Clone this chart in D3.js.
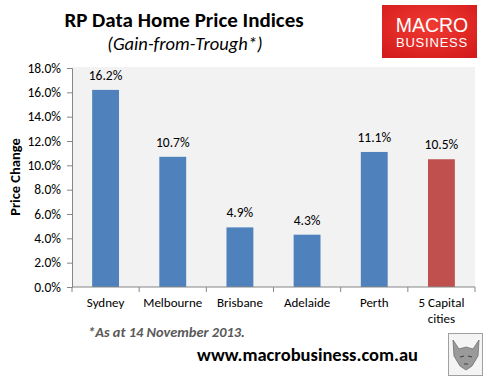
<!DOCTYPE html>
<html>
<head>
<meta charset="utf-8">
<script src="https://cdn.jsdelivr.net/npm/d3@7"></script>
<style>
  body { margin: 0; background: #fff; }
  svg { display: block; font-family: Calibri, Carlito, Lato, sans-serif; }
</style>
</head>
<body>
<svg id="chart" width="489" height="378"></svg>
<script>
const cities = ["Sydney", "Melbourne", "Brisbane", "Adelaide", "Perth", "5 Capital cities"];
const gains = [16.2, 10.7, 4.9, 4.3, 11.1, 10.5];
const barColors = ["#4F81BD", "#4F81BD", "#4F81BD", "#4F81BD", "#4F81BD", "#C0504D"];
const yTicks = [0, 2, 4, 6, 8, 10, 12, 14, 16, 18];

const svg = d3.select("#chart");
const plotL = 72, plotR = 475, plotT = 67, plotB = 287;
const axisTop = 68;

const x = d3.scaleBand().domain(cities).range([plotL, plotR]).paddingInner(0.6).paddingOuter(0.3);
const y = d3.scaleLinear().domain([0, 18]).range([plotB, axisTop]);

// plot area
svg.append("rect")
    .attr("x", plotL).attr("y", plotT)
    .attr("width", plotR - plotL).attr("height", plotB - plotT)
    .attr("fill", "#F2F2F2");

// bars
svg.selectAll(".bar")
    .data(cities)
    .join("rect")
    .attr("x", d => x(d))
    .attr("width", x.bandwidth())
    .attr("y", (d, i) => y(gains[i]))
    .attr("height", (d, i) => plotB - y(gains[i]))
    .attr("fill", (d, i) => barColors[i]);

svg.selectAll(".lbl")
    .data(cities)
    .join("text")
    .attr("x", d => x(d) + x.bandwidth() / 2)
    .attr("y", (d, i) => y(gains[i]) - 10)
    .attr("text-anchor", "middle")
    .attr("font-size", 13.5)
    .attr("fill", "#000")
    .text((d, i) => gains[i].toFixed(1) + "%");

// y axis
const yAxis = d3.axisLeft(y).tickValues(yTicks).tickSize(5).tickFormat(d => d.toFixed(1) + "%");
const gy = svg.append("g").attr("transform", `translate(${plotL},0)`).call(yAxis);
gy.select(".domain").attr("stroke", "#868686");
gy.selectAll(".tick line").attr("stroke", "#868686");
gy.selectAll(".tick text").attr("font-size", 13.5).attr("fill", "#000")
    .attr("font-family", "Calibri, Carlito, Lato, sans-serif").attr("x", -11);

// x axis
const edges = d3.range(cities.length + 1).map(i => plotL + i * (plotR - plotL) / cities.length);
svg.append("line").attr("x1", plotL).attr("x2", plotR).attr("y1", plotB).attr("y2", plotB).attr("stroke", "#868686");
svg.selectAll(".xt").data(edges).join("line")
    .attr("x1", d => d).attr("x2", d => d).attr("y1", plotB).attr("y2", plotB + 5)
    .attr("stroke", "#868686");

svg.selectAll(".xl")
    .data(cities)
    .join("text")
    .attr("x", d => x(d) + x.bandwidth() / 2)
    .attr("y", 307)
    .attr("text-anchor", "middle")
    .attr("font-size", 13)
    .each(function(d) {
        const t = d3.select(this);
        const parts = d === "5 Capital cities" ? ["5 Capital", "cities"] : [d];
        parts.forEach((p, k) => t.append("tspan").attr("x", x(d) + x.bandwidth() / 2).attr("dy", k ? 16 : 0).text(p));
    });

// y title
svg.append("text")
    .attr("transform", "translate(20,177) rotate(-90)")
    .attr("text-anchor", "middle")
    .attr("font-size", 14.5).attr("font-weight", "bold")
    .text("Price Change");

// titles
svg.append("text").attr("x", 184).attr("y", 27).attr("text-anchor", "middle")
    .attr("font-size", 21).attr("font-weight", "bold").text("RP Data Home Price Indices");
svg.append("text").attr("x", 185).attr("y", 50).attr("text-anchor", "middle")
    .attr("font-size", 18.5).attr("font-style", "italic").text("(Gain-from-Trough*)");

// logo
const grad = svg.append("defs").append("radialGradient").attr("id", "lg").attr("cx", "50%").attr("cy", "40%").attr("r", "70%");
grad.append("stop").attr("offset", "0%").attr("stop-color", "#F23A33");
grad.append("stop").attr("offset", "100%").attr("stop-color", "#D41C1C");
svg.append("rect").attr("x", 382).attr("y", 5).attr("width", 95).attr("height", 53).attr("fill", "url(#lg)");
svg.append("text").attr("x", 432).attr("y", 32).attr("text-anchor", "middle")
    .attr("font-family", "Arial, 'Liberation Sans', sans-serif").attr("font-size", 19.5).attr("fill", "#fff").text("MACRO");
svg.append("text").attr("x", 432).attr("y", 47).attr("text-anchor", "middle")
    .attr("font-family", "Arial, 'Liberation Sans', sans-serif").attr("font-size", 13).attr("letter-spacing", 0.8).attr("fill", "#fff").text("BUSINESS");

// footnote
svg.append("text").attr("x", 88).attr("y", 337)
    .attr("font-size", 14.4).attr("font-weight", "bold").attr("font-style", "italic").attr("fill", "#595959")
    .text("*As at 14 November 2013.");
svg.append("text").attr("x", 197).attr("y", 361)
    .attr("font-size", 18.5).attr("font-weight", "bold").attr("fill", "#000")
    .text("www.macrobusiness.com.au");

// wolf thumbnail
svg.append("rect").attr("x", 448.5).attr("y", 333.5).attr("width", 34).attr("height", 42)
    .attr("fill", "#F4F4F4").attr("stroke", "#A0A0A0");
svg.append("path")
    .attr("d", "M453,340 L459,349 L466,347 L473,349 L479,340 L478,356 L472,366 L466,370 L460,366 L454,356 Z")
    .attr("fill", "#9A9A9A").attr("stroke", "#6E6E6E").attr("stroke-width", 0.8);
svg.append("path").attr("d", "M460,357 L464,356 M468,356 L472,357 M464,364 L468,364")
    .attr("stroke", "#444").attr("stroke-width", 1.2);
</script>
</body>
</html>
